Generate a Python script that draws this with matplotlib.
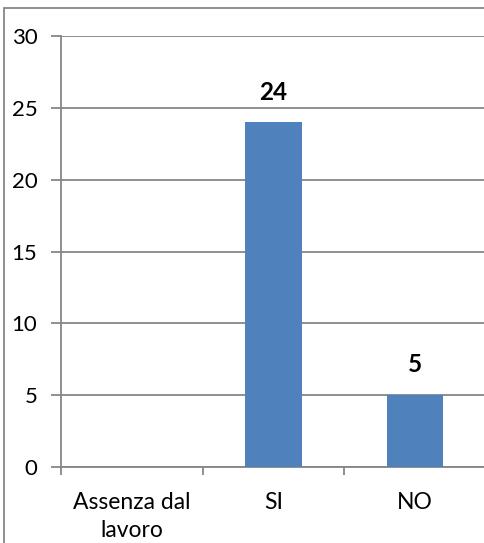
import matplotlib
matplotlib.use("Agg")
import matplotlib.pyplot as plt
import matplotlib.transforms as mtransforms
from matplotlib.patches import Rectangle

categories = ["Assenza dal\nlavoro", "SI", "NO"]
values = [None, 24, 5]
yticks = [0, 5, 10, 15, 20, 25, 30]

plt.rcParams['font.family'] = ['Lato', 'DejaVu Sans']
GRAY = "#868686"
BLUE = "#4F81BD"

W, H = 485, 543
fig = plt.figure(figsize=(W / 100, H / 100), dpi=100)
ax = fig.add_axes([61 / W, 1 - 467 / H, 425 / W, 431 / H])

xs = list(range(len(categories)))
for x, v in zip(xs, values):
    if v is None:
        continue
    ax.bar(x, v, width=0.4, color=BLUE, zorder=3)
    ax.text(x, v + 1.3, str(v), ha="center", va="bottom", fontsize=17.5,
            fontweight="bold", color="black", zorder=4)

ax.set_xlim(-0.5, len(categories) - 0.5)
ax.set_ylim(0, 30)
ax.set_yticks(yticks)
ax.set_yticklabels([str(t) for t in yticks], fontsize=16)
ax.set_xticks(xs)
ax.set_xticklabels([])
ax.tick_params(axis="x", length=0)
ax.set_xticks([x - 0.5 for x in xs] + [len(categories) - 0.5], minor=True)
ax.tick_params(axis="x", which="minor", length=6, color=GRAY, width=1.3, direction="out")
ax.tick_params(axis="y", length=7, color=GRAY, width=1.3, pad=10, direction="out")

base_tr = mtransforms.blended_transform_factory(ax.transData, ax.transAxes)
for x, c in zip(xs, categories):
    for i, line in enumerate(c.split("\n")):
        tr = base_tr + mtransforms.ScaledTranslation(0, -(42 + 28 * i) / 100,
                                                     fig.dpi_scale_trans)
        ax.text(x, 0, line, transform=tr, ha="center", va="baseline",
                fontsize=16.5, color="black")

ax.grid(axis="y", color=GRAY, linewidth=1.3, zorder=0)
ax.set_axisbelow(True)
for s in ["top", "right"]:
    ax.spines[s].set_visible(False)
for s in ["left", "bottom"]:
    ax.spines[s].set_color(GRAY)
    ax.spines[s].set_linewidth(1.3)

border = Rectangle((4.5 / W, -0.1), 1.2, 1 - 7.5 / H + 0.1, transform=fig.transFigure,
                   fill=False, edgecolor=GRAY, linewidth=1.3)
fig.patches.append(border)

fig.savefig("out.png", dpi=100)
